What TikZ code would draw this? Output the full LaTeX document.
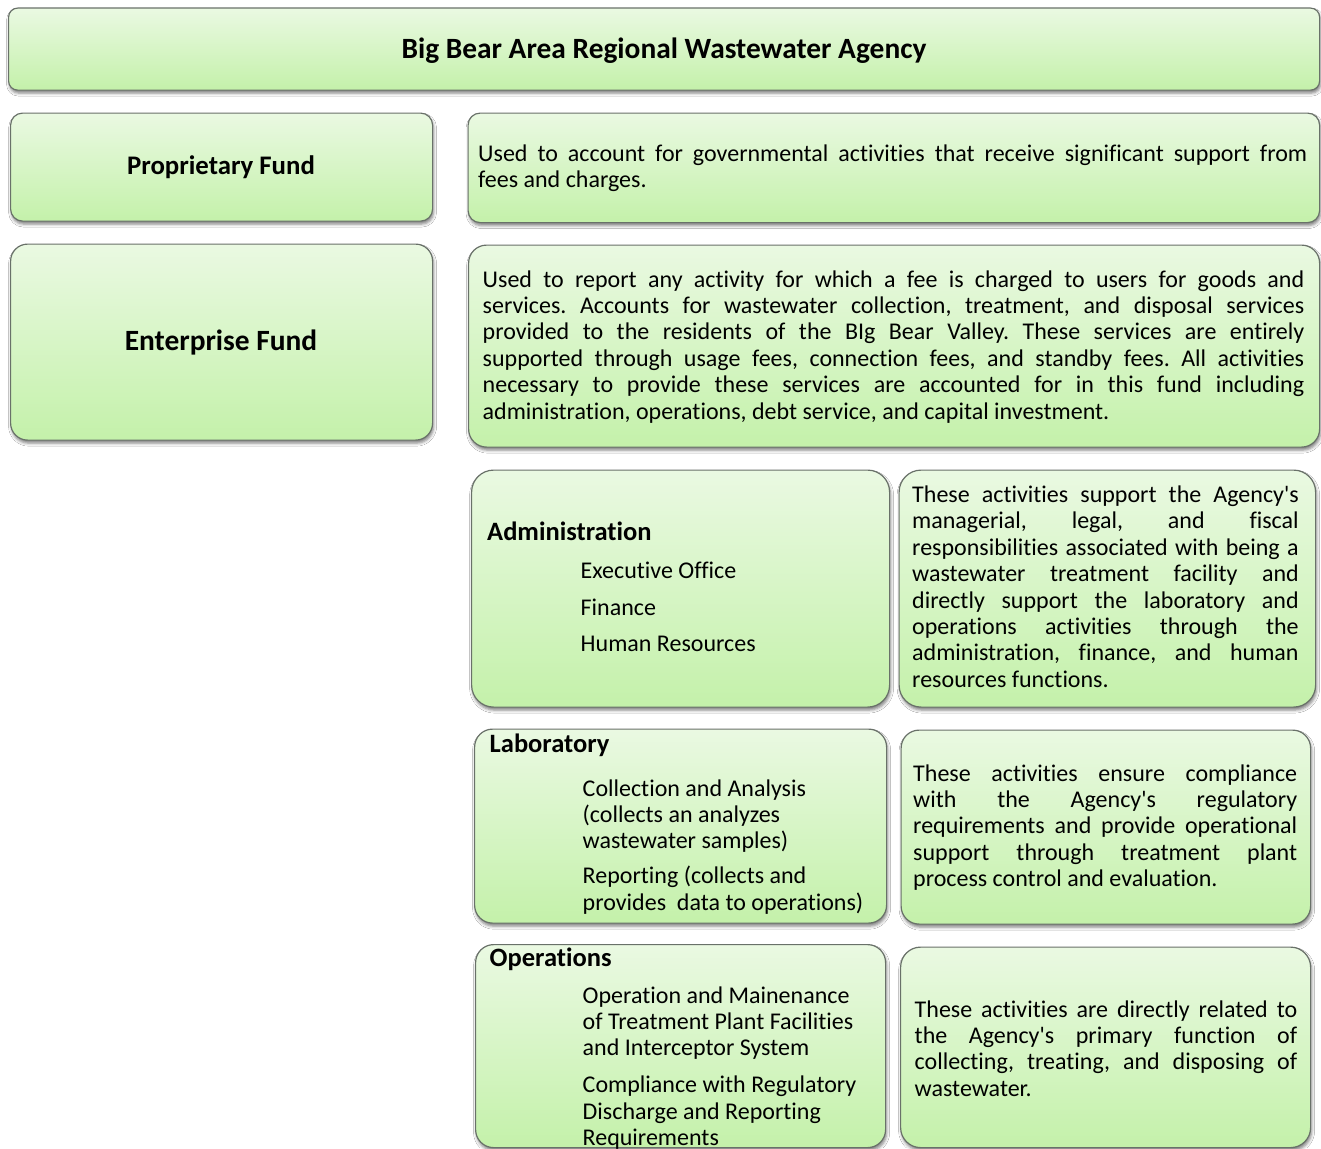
\documentclass[tikz,border=0pt]{standalone}
\usepackage{fontspec}
\setmainfont{Carlito}[Ligatures={TeXOff,NoCommon}]
\usetikzlibrary{shadows.blur}

\definecolor{boxtop}{RGB}{234,249,226}
\definecolor{boxbot}{RGB}{196,241,170}
\definecolor{boxline}{RGB}{105,113,105}

\tikzset{
  panel/.style={draw=boxline, line width=1.2pt, top color=boxtop, bottom color=boxbot,
    anchor=north west, inner sep=0pt,
    blur shadow={shadow xshift=1pt, shadow yshift=-3pt, shadow blur radius=3pt, shadow opacity=50}},
  body/.style={font=\fontsize{24}{26.4}\selectfont, inner sep=0pt},
  para/.style={body, anchor=base west, align=justify, text width=#1},
  listtext/.style={body, anchor=base west, align=flush left, text width=310pt},
  head/.style={font=\bfseries\fontsize{26.5}{30}\selectfont, inner sep=0pt, anchor=base west},
  bighead/.style={font=\bfseries\fontsize{29.4}{32}\selectfont, inner sep=0pt, anchor=base},
  midhead/.style={font=\bfseries\fontsize{26.8}{30}\selectfont, inner sep=0pt, anchor=base},
}

% \panelbox{name}{left}{top}{right}{bottom}{corner radius}
\newcommand\panelbox[6]{%
  \node[panel, rounded corners=#6pt, minimum width=#4-#2, minimum height=#5-#3] (#1) at (#2,#3) {};}

\begin{document}
\begin{tikzpicture}[x=1pt, y=-1pt]
\frenchspacing
\tolerance=10000 \hyphenpenalty=10000 \exhyphenpenalty=10000
\useasboundingbox[fill=white] (0,0) rectangle (1321,1148);

% boxes
\panelbox{agency}{8}{7.5}{1319}{89.5}{9}
\panelbox{prop}{10}{112.5}{432}{220.5}{12}
\panelbox{propdesc}{467.5}{112.5}{1319}{222}{12}
\panelbox{ent}{10}{243.5}{432}{439.5}{17}
\panelbox{entdesc}{468}{244.5}{1319}{446.5}{18}
\panelbox{adm}{471}{469.5}{889}{706.5}{22}
\panelbox{admdesc}{898.5}{469.5}{1315}{706.5}{22}
\panelbox{lab}{474}{728.5}{886}{922.5}{18}
\panelbox{labdesc}{900.5}{729.5}{1310}{923.5}{18}
\panelbox{ops}{475}{944}{885}{1147}{18}
\panelbox{opsdesc}{900}{946.5}{1310}{1147}{20}

% headings
\node[bighead] (agencyt) at (664,58.5) {Big Bear Area Regional Wastewater Agency};
\node[midhead] (propt) at (221,174.5) {Proprietary Fund};
\node[bighead] (entt) at (221,350.5) {Enterprise Fund};

% fund descriptions
\node[para=829pt] (propdesct) at (478,161.5) {Used to account for governmental activities that receive significant support from\linebreak fees and charges.};
\node[para=821.5pt] (entdesct) at (482.5,287) {Used to report any activity for which a fee is charged to users for goods and\linebreak services. Accounts for wastewater collection, treatment, and disposal services\linebreak provided to the residents of the BIg Bear Valley. These services are entirely\linebreak supported through usage fees, connection fees, and standby fees. All activities\linebreak necessary to provide these services are accounted for in this fund including\linebreak administration, operations, debt service, and capital investment.};

% administration
\node[head] (admt) at (487,540) {Administration};
\node[listtext] (admlist) at (580.5,578.5) {Executive Office\\[10.3pt]Finance\\[10.3pt]Human Resources};
\node[para=386.5pt] (admdesct) at (912,502.5) {These activities support the Agency's\linebreak managerial, legal, and fiscal\linebreak responsibilities associated with being a\linebreak wastewater treatment facility and\linebreak directly support the laboratory and\linebreak operations activities through the\linebreak administration, finance, and human\linebreak resources functions.};

% laboratory
\node[head] (labt) at (489.5,752) {Laboratory};
\node[listtext] (lablist) at (582.5,796) {Collection and Analysis\\(collects an analyzes\\wastewater samples)\\[8.5pt]Reporting (collects and\\provides\ \ data to operations)};
\node[para=384pt] (labdesct) at (913,781) {These activities ensure compliance\linebreak with the Agency's regulatory\linebreak requirements and provide operational\linebreak support through treatment plant\linebreak process control and evaluation.};

% operations
\node[head] (opst) at (489.5,966) {Operations};
\node[listtext] (opslist) at (582.5,1003) {Operation and Mainenance\\of Treatment Plant Facilities\\and Interceptor System\\[10.5pt]Compliance with Regulatory\\Discharge and Reporting\\Requirements};
\node[para=382.5pt] (opsdesct) at (914.5,1017) {These activities are directly related to\linebreak the Agency's primary function of\linebreak collecting, treating, and disposing of\linebreak wastewater.};
\end{tikzpicture}
\end{document}
